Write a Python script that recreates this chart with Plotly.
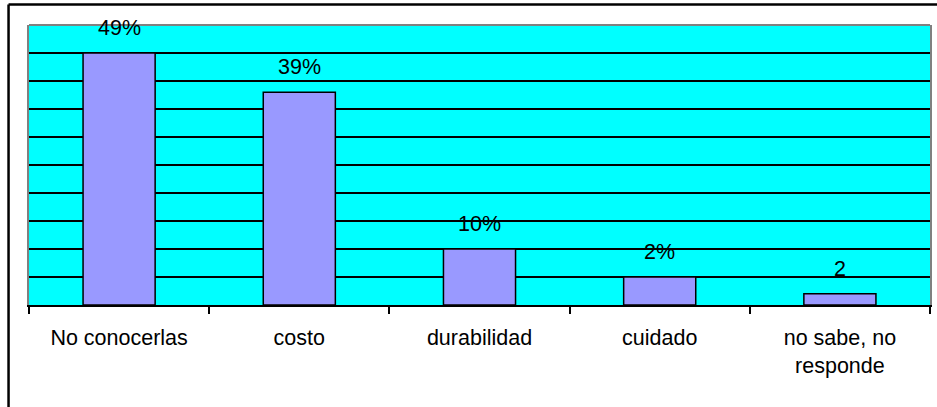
import plotly.graph_objects as go

categories = ["No conocerlas", "costo", "durabilidad", "cuidado", "no sabe, no<br>responde"]
values = [45, 38, 10, 5, 2]
value_labels = ["49%", "39%", "10%", "2%", "2"]

W, H = 937, 407
ML, MR, MT, MB = 29, 5, 25, 102
pw = W - ML - MR
ph = H - MT - MB

def px_x(px):
    return (px - ML) / pw

def px_y(py):
    return (H - MB - py) / ph

FONT = dict(family="Liberation Sans, Arial, sans-serif", size=21.5, color="black")

fig = go.Figure()
fig.add_trace(go.Bar(
    x=categories, y=values,
    marker=dict(color="#9999FF", line=dict(color="black", width=1.5)),
    hoverinfo="skip",
))

for c, v, t in zip(categories, values, value_labels):
    fig.add_annotation(x=c, y=v, text=t, showarrow=False, yanchor="middle",
                       yshift=25, font=FONT)

shapes = [
    # grey top border of plot area
    dict(type="line", xref="paper", yref="paper", x0=0, x1=1, y0=1, y1=1,
         line=dict(color="#808080", width=2)),
    # outer frame (left and top visible)
    dict(type="line", xref="paper", yref="paper", x0=px_x(8.5), x1=px_x(8.5),
         y0=px_y(420), y1=px_y(4.5), line=dict(color="black", width=2.5)),
    dict(type="line", xref="paper", yref="paper", x0=px_x(8.5), x1=px_x(960),
         y0=px_y(4.5), y1=px_y(4.5), line=dict(color="black", width=2.5)),
]

fig.update_layout(
    width=W, height=H,
    margin=dict(l=ML, r=MR, t=MT, b=MB),
    paper_bgcolor="white",
    plot_bgcolor="#00FFFF",
    bargap=0.6,
    showlegend=False,
    font=FONT,
    shapes=shapes,
    xaxis=dict(
        type="category",
        showline=True, linecolor="black", linewidth=1.5,
        ticks="outside", tickson="boundaries", ticklen=7, tickwidth=1.5, tickcolor="black",
        showgrid=False, tickfont=FONT, ticklabelstandoff=12,
    ),
    yaxis=dict(
        range=[0, 50], dtick=5, showticklabels=False,
        showgrid=True, gridcolor="black", gridwidth=1.6,
        showline=True, linecolor="#808080", linewidth=2, mirror=True,
        zeroline=False, ticks="",
    ),
)

fig.write_html("out.html")
